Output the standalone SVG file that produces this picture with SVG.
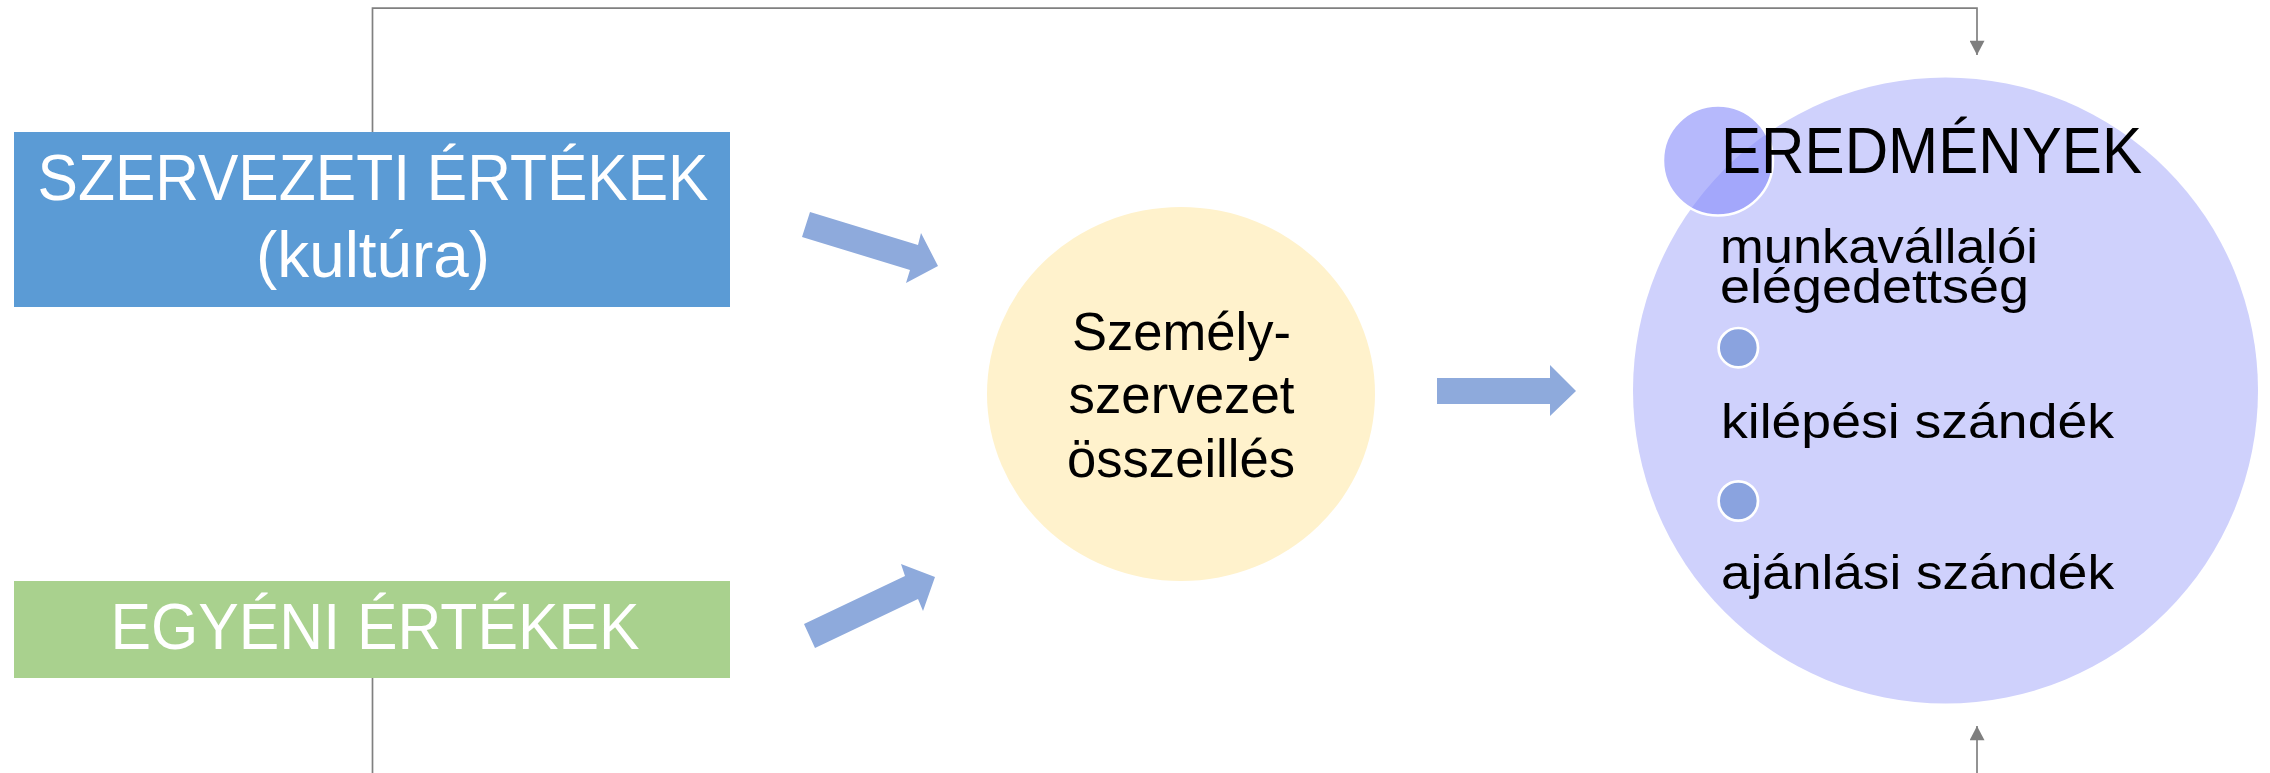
<svg xmlns="http://www.w3.org/2000/svg" width="2270" height="773" viewBox="0 0 2270 773">
<style>
text { font-family: "Liberation Sans", Arial, sans-serif; }
.w { fill: #ffffff; font-size: 65px; text-anchor: middle; }
.k { fill: #000000; font-size: 49px; }
.km { fill: #000000; font-size: 53px; text-anchor: middle; }
.conn { fill: none; stroke: #808080; stroke-width: 1.7; }
.blk { fill: #8eaadc; }
.bul { fill: #8aa3df; stroke: #ffffff; stroke-width: 2.7; }
</style>
<defs>
<marker id="ah" markerWidth="16" markerHeight="15" refX="15" refY="7.85" orient="auto" markerUnits="userSpaceOnUse" viewBox="0 0 15 15.7">
<path d="M0,0 L15,7.85 L0,15.7 Z" fill="#7f7f7f"/>
</marker>
</defs>
<g id="connectors">
<path class="conn" d="M372.5,132 V8.2 H1977 V55" marker-end="url(#ah)"/>
<path class="conn" d="M372.5,678 V773"/>
<path class="conn" d="M1977,773 V726" marker-end="url(#ah)"/>
<polygon class="blk" points="810,212 918,245 921,233 938,266 906,283 910,270 802,237"/>
<polygon class="blk" points="804,624 905,576 901,564 935,577 923,611 918,599 815,648"/>
<polygon class="blk" points="1437,378 1550,378 1550,365 1576,391 1550,416 1550,404 1437,404"/>
</g>
<g id="szervezeti">
<rect x="14" y="132" width="716" height="175" fill="#5b9bd5"/>
<text class="w" x="373" y="200" textLength="671" lengthAdjust="spacingAndGlyphs">SZERVEZETI ÉRTÉKEK</text>
<text class="w" x="373" y="277" textLength="234" lengthAdjust="spacingAndGlyphs">(kultúra)</text>
</g>
<g id="egyeni">
<rect x="14" y="581" width="716" height="97" fill="#a9d18e"/>
<text class="w" x="375" y="649" textLength="529" lengthAdjust="spacingAndGlyphs">EGYÉNI ÉRTÉKEK</text>
</g>
<g id="osszeilles">
<ellipse cx="1181" cy="394" rx="194" ry="187" fill="#fff2cc"/>
<text class="km" x="1181.5" y="350" textLength="219" lengthAdjust="spacingAndGlyphs">Személy-</text>
<text class="km" x="1181.5" y="413" textLength="226" lengthAdjust="spacingAndGlyphs">szervezet</text>
<text class="km" x="1181" y="477" textLength="228" lengthAdjust="spacingAndGlyphs">összeillés</text>
</g>
<g id="eredmenyek">
<ellipse cx="1945.5" cy="390.5" rx="312.5" ry="313" fill="#cfd1fc"/>
<circle cx="1718" cy="160.5" r="55" fill="rgb(133,138,250)" fill-opacity="0.6" stroke="#ffffff" stroke-width="2.5"/>
<text x="1721" y="173" style="fill:#000;font-size:64px" textLength="421" lengthAdjust="spacingAndGlyphs">EREDMÉNYEK</text>
<text class="k"><tspan x="1720" y="263" textLength="318" lengthAdjust="spacingAndGlyphs">munkavállalói</tspan><tspan x="1720" y="303" textLength="309" lengthAdjust="spacingAndGlyphs">elégedettség</tspan></text>
<circle class="bul" cx="1738.3" cy="347.7" r="19.7"/>
<text class="k" x="1721" y="438" textLength="393" lengthAdjust="spacingAndGlyphs">kilépési szándék</text>
<circle class="bul" cx="1738.3" cy="501" r="19.7"/>
<text class="k" x="1721" y="589" textLength="393" lengthAdjust="spacingAndGlyphs">ajánlási szándék</text>
</g>
</svg>
